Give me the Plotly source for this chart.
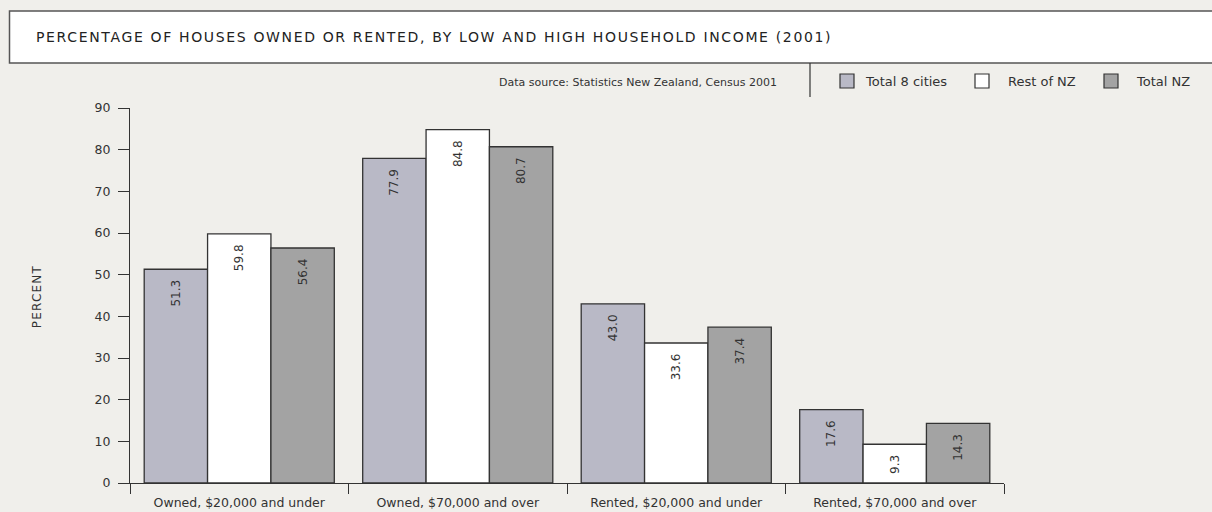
import plotly.graph_objects as go

# ---- data ----
categories = ["Owned, $20,000 and under", "Owned, $70,000 and over",
              "Rented, $20,000 and under", "Rented, $70,000 and over"]
series_names = ["Total 8 cities", "Rest of NZ", "Total NZ"]
total_8_cities = [51.3, 77.9, 43.0, 17.6]
rest_of_nz = [59.8, 84.8, 33.6, 9.3]
total_nz = [56.4, 80.7, 37.4, 14.3]
series_values = [total_8_cities, rest_of_nz, total_nz]
series_colors = ["#b9b9c6", "#ffffff", "#a3a3a3"]
y_ticks = [0, 10, 20, 30, 40, 50, 60, 70, 80, 90]

title_text = "PERCENTAGE OF HOUSES OWNED OR RENTED, BY LOW AND HIGH HOUSEHOLD INCOME (2001)"
source_text = "Data source: Statistics New Zealand, Census 2001"
y_title = "PERCENT"

# ---- layout geometry (pixels) ----
W, H = 1212, 512
L, R, T, B = 130, 208, 108, 29
PW, PH = W - L - R, H - T - B
BG = "#f0efeb"
INK = "#333333"
FONT = "DejaVu Sans"


def px(x):
    return (x - L) / PW


def py(y):
    return (H - B - y) / PH


fig = go.Figure()
for name, vals, col in zip(series_names, series_values, series_colors):
    fig.add_trace(go.Bar(
        x=categories, y=vals, name=name,
        marker=dict(color=col, line=dict(color=INK, width=1.3)),
        texttemplate="%{y:.1f}\u00a0\u00a0",
        textposition="inside", insidetextanchor="end", textangle=-90,
        textfont=dict(family=FONT, size=12, color=INK),
        showlegend=False, hoverinfo="x+y+name",
    ))

shapes = [
    # title box
    dict(type="rect", xref="paper", yref="paper", x0=px(9.5), x1=px(1230), y0=py(11), y1=py(63),
         fillcolor="#ffffff", line=dict(color="#555555", width=1.5), layer="below"),
    # separator
    dict(type="line", xref="paper", yref="paper", x0=px(810), x1=px(810), y0=py(63), y1=py(97),
         line=dict(color=INK, width=1.2)),
]
annotations = [
    dict(text=title_text, xref="paper", yref="paper", x=px(34), y=py(37), xanchor="left", yanchor="middle",
         showarrow=False, font=dict(family=FONT, size=14, color="#222222")),
    dict(text=source_text, xref="paper", yref="paper", x=px(779), y=py(82), xanchor="right", yanchor="middle",
         showarrow=False, font=dict(family=FONT, size=11, color=INK)),
    dict(text=y_title, xref="paper", yref="paper", x=px(37), y=py(297), xanchor="center", yanchor="middle",
         textangle=-90, showarrow=False, font=dict(family=FONT, size=12, color=INK)),
]

# custom legend
legend_sq_x = [840, 975, 1104]
legend_txt_x = [863, 1006, 1134]
for name, col, sx, tx in zip(series_names, series_colors, legend_sq_x, legend_txt_x):
    shapes.append(dict(type="rect", xref="paper", yref="paper", x0=px(sx), x1=px(sx + 14),
                       y0=py(74), y1=py(88), fillcolor=col, line=dict(color=INK, width=1.2)))
    annotations.append(dict(text=name, xref="paper", yref="paper", x=px(tx), y=py(81.5),
                            xanchor="left", yanchor="middle", showarrow=False,
                            font=dict(family=FONT, size=13, color=INK)))

fig.update_layout(
    width=W, height=H,
    margin=dict(l=L, r=R, t=T, b=B, pad=0, autoexpand=False),
    paper_bgcolor=BG, plot_bgcolor=BG,
    barmode="group", bargap=0.13, bargroupgap=0,
    shapes=shapes, annotations=annotations,
    font=dict(family=FONT, size=12, color=INK),
    xaxis=dict(
        type="category", range=[-0.5, 3.5], showgrid=False, zeroline=False,
        showline=True, linecolor=INK, linewidth=1.3, automargin=False,
        ticks="outside", tickson="boundaries", ticklen=10, tickcolor=INK, tickwidth=1.2,
        ticklabelstandoff=8,
        tickfont=dict(family=FONT, size=12.5, color=INK), fixedrange=True,
    ),
    yaxis=dict(
        range=[0, 90], tickvals=y_ticks, showgrid=False, zeroline=False,
        showline=True, linecolor=INK, linewidth=1.3, automargin=False,
        ticks="outside", ticklen=11, tickcolor=INK, tickwidth=1.2,
        ticklabelstandoff=5,
        tickfont=dict(family=FONT, size=12.5, color=INK), fixedrange=True,
    ),
)

post = """
(function(){
  var gd = document.getElementById('{plot_id}');
  function spaceText(t, ls, keepLeft){
    var bb0 = t.getBBox();
    t.style.letterSpacing = ls;
    if (keepLeft) {
      var bb1 = t.getBBox();
      var x = parseFloat(t.getAttribute('x') || '0');
      t.setAttribute('x', x + (bb0.x - bb1.x));
    }
  }
  function apply(){
    gd.querySelectorAll('text.annotation-text').forEach(function(t){
      if (t.getAttribute('data-ls')) return;
      var u = t.getAttribute('data-unformatted') || t.textContent;
      if (u.indexOf('PERCENTAGE') === 0) { spaceText(t, '1.65px', true); t.setAttribute('data-ls', '1'); }
      else if (u === 'PERCENT') { spaceText(t, '1.2px', false); t.setAttribute('data-ls', '1'); }
    });
  }
  apply();
  setTimeout(apply, 0);
  if (gd.on) { gd.on('plotly_afterplot', function(){ setTimeout(apply, 0); }); }
})();
"""

fig.write_html("out.html", config={"displayModeBar": False}, post_script=post)
